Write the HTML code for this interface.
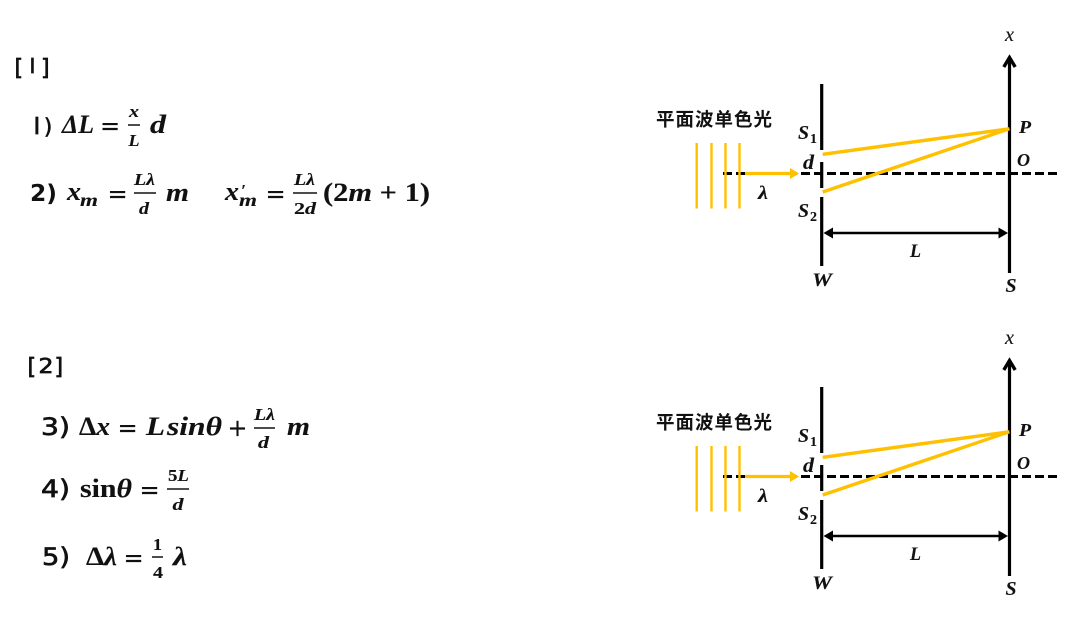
<!DOCTYPE html>
<html><head><meta charset="utf-8"><style>
html,body{margin:0;padding:0;background:#fff}
svg{display:block}
text{fill:#111}
.m{font-family:"Liberation Serif",serif;font-weight:bold;font-style:italic;stroke:#111;stroke-width:.12px}
.r{font-family:"Liberation Serif",serif;font-weight:bold;stroke:#111;stroke-width:.12px}
.e{font-family:"DejaVu Sans",sans-serif;font-weight:normal;stroke:#111;stroke-width:.15px}
.s{font-family:"DejaVu Sans",sans-serif;font-weight:normal;stroke:#111;stroke-width:.7px}
.b{font-family:"DejaVu Sans",sans-serif;font-weight:bold}
.c{font-family:"Noto Sans CJK SC",sans-serif;font-weight:bold;font-size:18.500px;letter-spacing:1px}
</style></head><body>
<svg width="1070" height="632" viewBox="0 0 1070 632" xmlns="http://www.w3.org/2000/svg">
<defs>
<g id="d">
<line x1="821.7" y1="84" x2="821.7" y2="150" stroke="#000" stroke-width="3.2"/>
<line x1="821.7" y1="162" x2="821.7" y2="188" stroke="#000" stroke-width="3.2"/>
<line x1="821.7" y1="197" x2="821.7" y2="266" stroke="#000" stroke-width="3.2"/>
<line x1="1009.5" y1="58" x2="1009.5" y2="273" stroke="#000" stroke-width="3.2"/>
<polyline points="1003.8,67 1009.500,57.500 1015.200,67" fill="none" stroke="#000" stroke-width="3.4"/>
<line x1="723" y1="173.500" x2="1058" y2="173.500" stroke="#000" stroke-width="3" stroke-dasharray="9 4"/>
<g stroke="#FFC000" stroke-width="2.400">
<line x1="696.7" y1="143" x2="696.7" y2="208.500"/>
<line x1="711.500" y1="143" x2="711.500" y2="208.500"/>
<line x1="725.500" y1="143" x2="725.500" y2="208.500"/>
<line x1="739.500" y1="143" x2="739.500" y2="208.500"/>
</g>
<line x1="745" y1="173.500" x2="792" y2="173.500" stroke="#FFC000" stroke-width="3.200"/>
<polygon points="790,168 799,173.500 790,179" fill="#FFC000"/>
<polyline points="822.700,154.300 1009.300,128.800 822.700,192" fill="none" stroke="#FFC000" stroke-width="3.400" stroke-linejoin="miter"/>
<line x1="828" y1="233" x2="1003" y2="233" stroke="#000" stroke-width="2.600"/>
<polygon points="823.500,233 833,227.500 833,238.500" fill="#000"/>
<polygon points="1008,233 998.500,227.500 998.500,238.500" fill="#000"/>
<text class="c" x="656" y="126">平面波单色光</text>
<text class="m" x="1005" y="41" font-size="20" textLength="9" lengthAdjust="spacingAndGlyphs" style="font-weight:normal">x</text>
<text class="m" x="798" y="139" font-size="20" textLength="11" lengthAdjust="spacingAndGlyphs">S</text><text class="r" x="810" y="143" font-size="14">1</text>
<text class="m" x="803" y="169" font-size="21" textLength="11" lengthAdjust="spacingAndGlyphs">d</text>
<text class="m" x="798" y="217" font-size="20" textLength="11" lengthAdjust="spacingAndGlyphs">S</text><text class="r" x="810" y="221" font-size="14">2</text>
<text class="m" x="758" y="199" font-size="19" textLength="10" lengthAdjust="spacingAndGlyphs">λ</text>
<text class="m" x="1019" y="133" font-size="18" textLength="12" lengthAdjust="spacingAndGlyphs">P</text>
<text class="m" x="1017" y="166" font-size="18" textLength="13" lengthAdjust="spacingAndGlyphs">O</text>
<text class="m" x="910" y="257" font-size="19" textLength="11" lengthAdjust="spacingAndGlyphs">L</text>
<text class="m" x="812" y="286" font-size="19" textLength="20" lengthAdjust="spacingAndGlyphs">W</text>
<text class="m" x="1005.500" y="292" font-size="20" textLength="11" lengthAdjust="spacingAndGlyphs">S</text>
</g>
</defs>

<use href="#d"/>
<use href="#d" y="303"/>

<!-- Section 1 -->
<text class="s" x="14.500" y="75" font-size="22">[</text>
<text class="s" x="29.500" y="73" font-size="20">I</text>
<text class="s" x="41" y="75" font-size="22">]</text>
<text class="s" x="33.500" y="134" font-size="23">I</text>
<text class="s" x="44" y="134" font-size="21">)</text>
<text class="m" x="62" y="133" font-size="26" textLength="32" lengthAdjust="spacingAndGlyphs">ΔL</text>
<text class="e" x="100" y="134" font-size="24">=</text>
<text class="m" x="129" y="117" font-size="17" textLength="10" lengthAdjust="spacingAndGlyphs">x</text>
<line x1="128" y1="125" x2="140" y2="125" stroke="#111" stroke-width="1.500"/>
<text class="m" x="128.500" y="146" font-size="17" textLength="11" lengthAdjust="spacingAndGlyphs">L</text>
<text class="m" x="150" y="133" font-size="26" textLength="16" lengthAdjust="spacingAndGlyphs">d</text>

<text class="b" x="30" y="201" font-size="23" textLength="27" lengthAdjust="spacingAndGlyphs">2)</text>
<text class="m" x="67" y="200" font-size="26" textLength="14" lengthAdjust="spacingAndGlyphs">x</text>
<text class="m" x="80" y="206" font-size="18" textLength="18" lengthAdjust="spacingAndGlyphs">m</text>
<text class="e" x="107.500" y="202" font-size="24">=</text>
<text class="m" x="134" y="185" font-size="17" textLength="21" lengthAdjust="spacingAndGlyphs">Lλ</text>
<line x1="134" y1="193" x2="156" y2="193" stroke="#111" stroke-width="1.500"/>
<text class="m" x="139" y="214" font-size="17" textLength="10" lengthAdjust="spacingAndGlyphs">d</text>
<text class="m" x="166" y="201" font-size="26" textLength="23" lengthAdjust="spacingAndGlyphs">m</text>
<text class="m" x="225" y="200" font-size="26" textLength="14" lengthAdjust="spacingAndGlyphs">x</text>
<text class="m" x="241" y="196" font-size="17">′</text>
<text class="m" x="239" y="206" font-size="18" textLength="18" lengthAdjust="spacingAndGlyphs">m</text>
<text class="e" x="265.500" y="202" font-size="24">=</text>
<text class="m" x="294" y="185" font-size="17" textLength="21" lengthAdjust="spacingAndGlyphs">Lλ</text>
<line x1="293" y1="193" x2="317" y2="193" stroke="#111" stroke-width="1.500"/>
<text class="r" x="294" y="214" font-size="17" textLength="22" lengthAdjust="spacingAndGlyphs">2<tspan class="m">d</tspan></text>
<text class="r" x="323" y="201" font-size="26" textLength="107" lengthAdjust="spacingAndGlyphs">(2<tspan class="m">m</tspan> + 1)</text>

<!-- Section 2 -->
<text class="s" x="27.500" y="374" font-size="22">[</text>
<text class="s" x="38.500" y="373" font-size="20" textLength="15" lengthAdjust="spacingAndGlyphs">2</text>
<text class="s" x="54.500" y="374" font-size="22">]</text>
<text class="s" x="41" y="435" font-size="24" textLength="29" lengthAdjust="spacingAndGlyphs">3)</text>
<text class="r" x="79" y="435" font-size="26" textLength="31" lengthAdjust="spacingAndGlyphs">Δ<tspan class="m">x</tspan></text>
<text class="e" x="117.500" y="436" font-size="24">=</text>
<text class="m" x="146" y="435" font-size="26" textLength="19" lengthAdjust="spacingAndGlyphs">L</text>
<text class="m" x="167" y="435" font-size="26" textLength="55" lengthAdjust="spacingAndGlyphs">sinθ</text>
<text class="e" x="227.500" y="436" font-size="24" textLength="20" lengthAdjust="spacingAndGlyphs">+</text>
<text class="m" x="254" y="420" font-size="17" textLength="21" lengthAdjust="spacingAndGlyphs">Lλ</text>
<line x1="254" y1="428" x2="275" y2="428" stroke="#111" stroke-width="1.500"/>
<text class="m" x="258" y="448" font-size="17" textLength="11" lengthAdjust="spacingAndGlyphs">d</text>
<text class="m" x="287" y="435" font-size="26" textLength="23" lengthAdjust="spacingAndGlyphs">m</text>

<text class="s" x="41" y="497" font-size="24" textLength="29" lengthAdjust="spacingAndGlyphs">4)</text>
<text class="r" x="80" y="497" font-size="26" textLength="52" lengthAdjust="spacingAndGlyphs">sin<tspan class="m">θ</tspan></text>
<text class="e" x="139.500" y="498" font-size="24">=</text>
<text class="r" x="168" y="481" font-size="17" textLength="21" lengthAdjust="spacingAndGlyphs">5<tspan class="m">L</tspan></text>
<line x1="167" y1="489" x2="189" y2="489" stroke="#111" stroke-width="1.500"/>
<text class="m" x="172.500" y="510" font-size="17" textLength="11" lengthAdjust="spacingAndGlyphs">d</text>

<text class="s" x="42" y="565" font-size="24" textLength="28" lengthAdjust="spacingAndGlyphs">5)</text>
<text class="r" x="86" y="565" font-size="26" textLength="31" lengthAdjust="spacingAndGlyphs">Δ<tspan class="m">λ</tspan></text>
<text class="e" x="123.500" y="566" font-size="24">=</text>
<text class="r" x="153" y="550" font-size="17" textLength="9" lengthAdjust="spacingAndGlyphs">1</text>
<line x1="152" y1="557" x2="163" y2="557" stroke="#111" stroke-width="1.500"/>
<text class="r" x="153" y="578" font-size="17" textLength="10" lengthAdjust="spacingAndGlyphs">4</text>
<text class="m" x="173" y="565" font-size="26" textLength="14" lengthAdjust="spacingAndGlyphs">λ</text>
</svg>
</body></html>
